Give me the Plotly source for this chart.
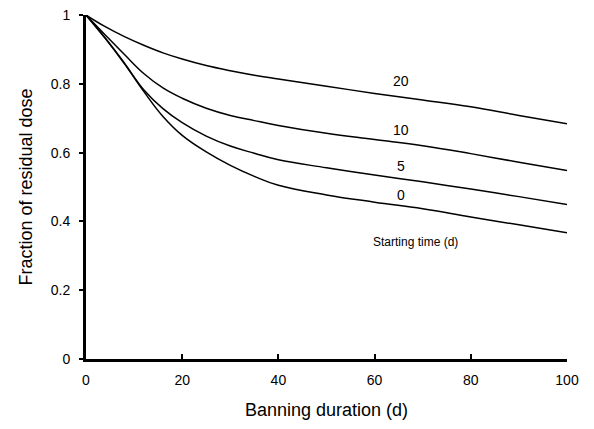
import plotly.graph_objects as go

# Data
days = [0, 4, 8, 12, 16, 20, 25, 30, 35, 40, 50, 60, 70, 80, 90, 100]
start_20 = [1.0, 0.966, 0.937, 0.912, 0.89, 0.872, 0.853, 0.838, 0.825, 0.814, 0.793, 0.772, 0.753, 0.733, 0.708, 0.684]
start_10 = [1.0, 0.942, 0.885, 0.83, 0.788, 0.758, 0.729, 0.708, 0.693, 0.679, 0.656, 0.638, 0.62, 0.597, 0.572, 0.548]
start_5 = [1.0, 0.933, 0.86, 0.783, 0.728, 0.687, 0.648, 0.619, 0.598, 0.579, 0.556, 0.535, 0.515, 0.494, 0.472, 0.449]
start_0 = [1.0, 0.932, 0.858, 0.778, 0.705, 0.65, 0.602, 0.563, 0.531, 0.505, 0.477, 0.456, 0.437, 0.413, 0.39, 0.367]

series = [("20", start_20), ("10", start_10), ("5", start_5), ("0", start_0)]
label_x = 65.4
label_y = {"20": 0.807, "10": 0.667, "5": 0.562, "0": 0.477}

x_ticks = [0, 20, 40, 60, 80, 100]
y_ticks = [0, 0.2, 0.4, 0.6, 0.8, 1]
y_tick_text = ["0", "0.2", "0.4", "0.6", "0.8", "1"]

FONT = "Liberation Sans, Arial, sans-serif"

fig = go.Figure()
for name, vals in series:
    fig.add_trace(go.Scatter(
        x=days, y=vals, mode="lines", name=name,
        line=dict(color="black", width=1.5, shape="spline", smoothing=1.2),
        showlegend=False, hoverinfo="skip",
    ))
    fig.add_annotation(x=label_x, y=label_y[name], text=name, showarrow=False,
                       font=dict(family=FONT, size=14, color="black"))

fig.add_annotation(x=68.5, y=0.341, text="Starting time (d)", showarrow=False,
                   font=dict(family=FONT, size=12, color="black"))

fig.update_layout(
    width=594, height=429,
    margin=dict(l=78, r=35, t=7, b=78),
    paper_bgcolor="white", plot_bgcolor="white",
    font=dict(family=FONT, color="black"),
)
fig.update_xaxes(
    range=[0, 100], tickvals=x_ticks, ticks="inside", ticklen=5, tickwidth=2,
    tickcolor="black", showline=True, linecolor="black", linewidth=2.5,
    showgrid=False, zeroline=False, tickfont=dict(size=14, family=FONT),
    ticklabelstandoff=6, automargin=False, ticklabeloverflow="allow",
    title=dict(text="Banning duration (d)", font=dict(size=18, family=FONT), standoff=17),
)
fig.update_yaxes(
    range=[0, 1], tickvals=y_ticks, ticktext=y_tick_text, ticks="outside", ticklen=4,
    tickwidth=2, tickcolor="black", showline=True, linecolor="black", linewidth=3,
    showgrid=False, zeroline=False, tickfont=dict(size=14, family=FONT),
    ticklabelstandoff=6, automargin=False, ticklabeloverflow="allow",
    title=dict(text="Fraction of residual dose", font=dict(size=18, family=FONT), standoff=14),
)

fig.write_html("out.html")
